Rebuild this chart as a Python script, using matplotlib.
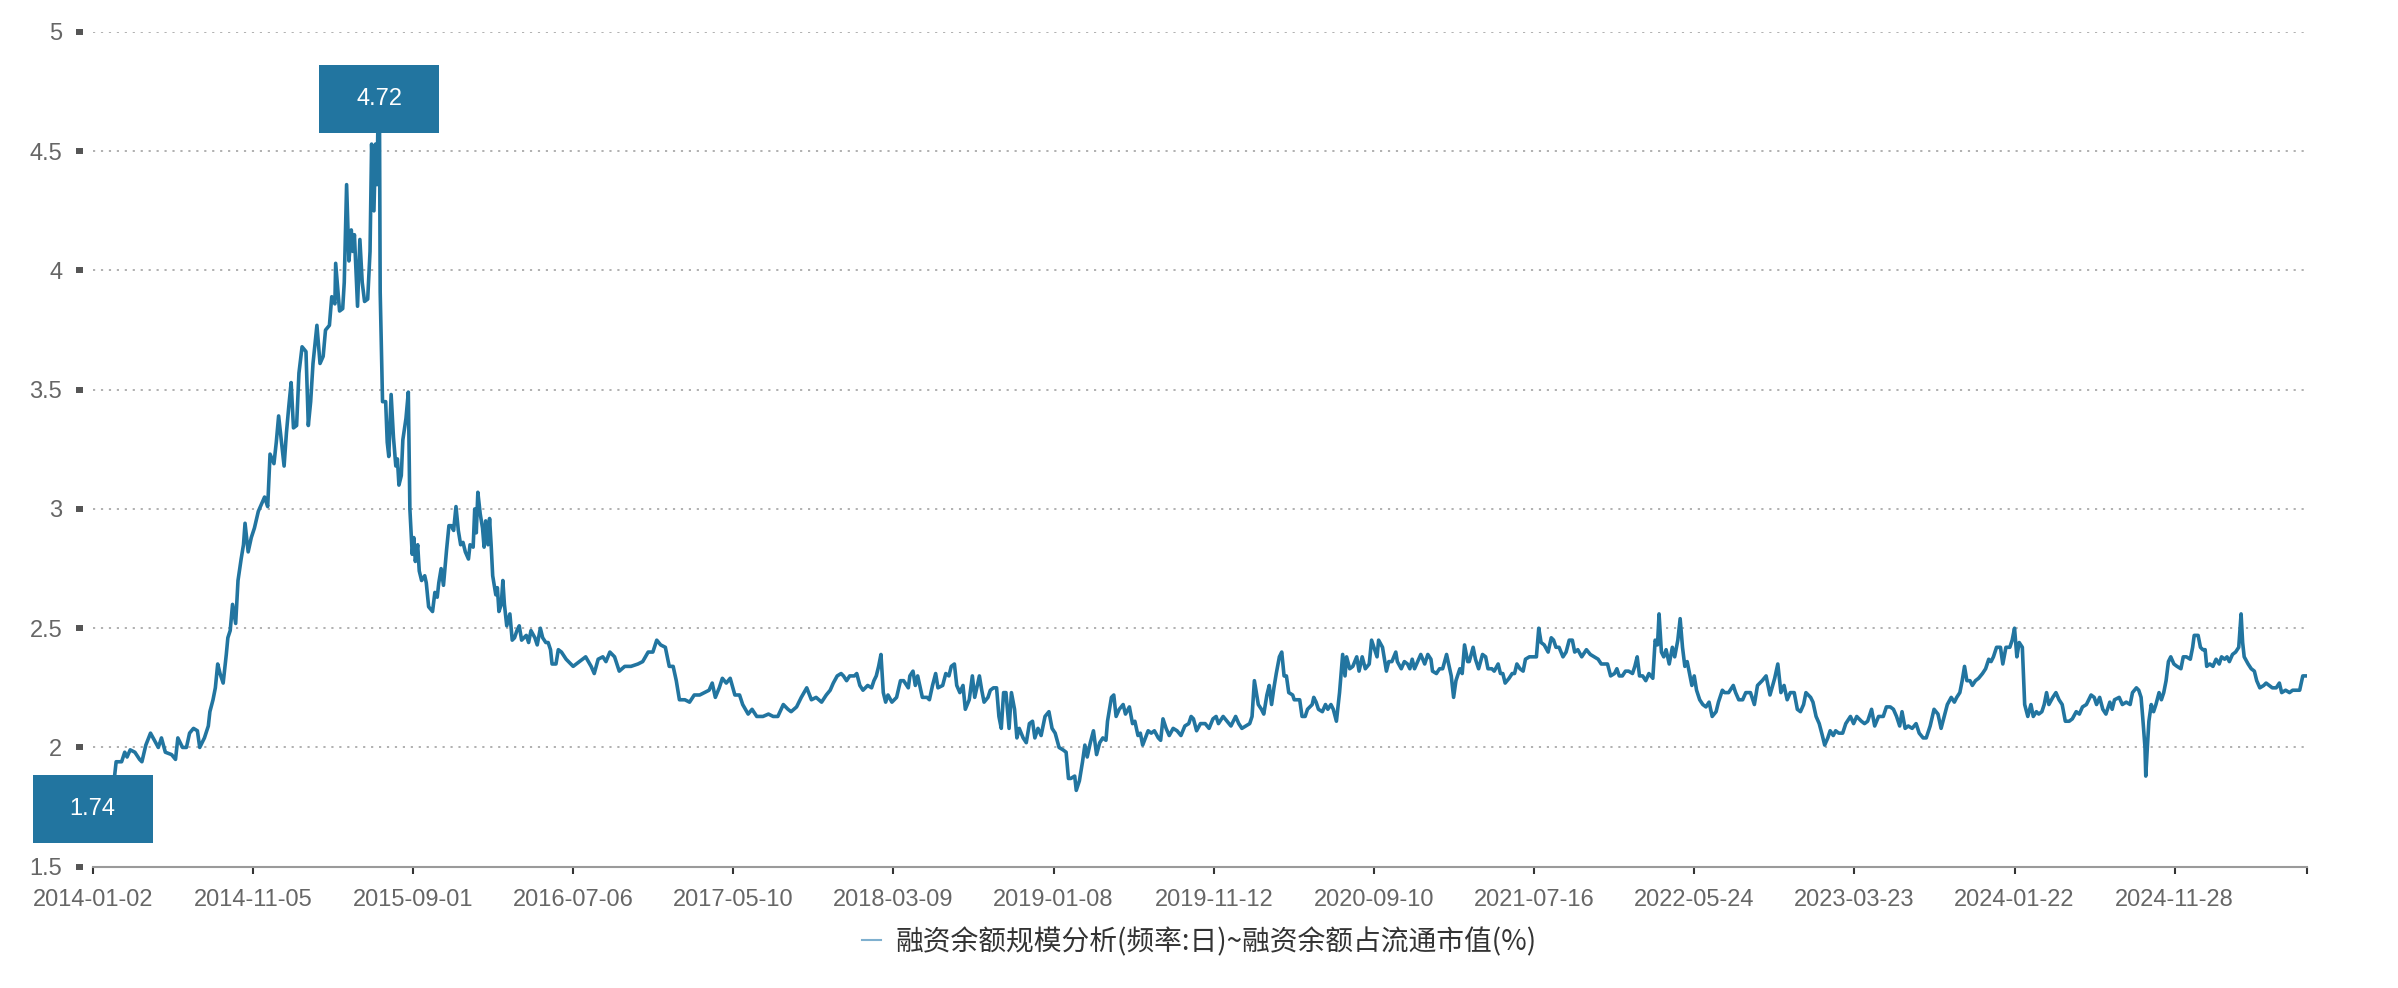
import matplotlib
matplotlib.use('Agg')
import matplotlib.pyplot as plt
import matplotlib.transforms as mtransforms
from matplotlib.patches import Rectangle
from matplotlib.lines import Line2D
import numpy as np

# category axis: trading days since 2014-01-02, a label every 205 days
tick_dates = ['2014-01-02', '2014-11-05', '2015-09-01', '2016-07-06', '2017-05-10',
              '2018-03-09', '2019-01-08', '2019-11-12', '2020-09-10', '2021-07-16',
              '2022-05-24', '2023-03-23', '2024-01-22', '2024-11-28']
label_step = 205
last_day = 2834

series_name = '融资余额规模分析(频率:日)~融资余额占流通市值(%)'

# values, by period (trading-day index, % of float market cap)
days_a = [0, 6, 12, 18, 24, 28, 30, 37, 41, 44,
          48, 54, 60, 63, 68, 74, 79, 84, 88, 93,
          101, 106, 109, 115, 120, 124, 129, 134, 137, 143,
          148, 150, 154, 157, 160, 163, 167, 171, 173, 176,
          179, 183, 186, 190, 193, 195, 199, 203, 207, 212,
          216, 220, 224, 227, 232, 235, 238, 241, 245, 248,
          251, 254, 257, 261, 264, 268, 273, 276, 279, 282,
          287, 291, 295, 298, 303, 306, 310, 311, 314, 316,
          320, 322, 325, 328, 331, 333, 335, 339, 342, 345,
          348, 352, 355, 357, 360, 362, 364, 365, 367, 368]
vals_a = [1.74, 1.78, 1.81, 1.84, 1.86, 1.88, 1.94, 1.94, 1.98, 1.96,
          1.99, 1.98, 1.95, 1.94, 2.01, 2.06, 2.03, 2.00, 2.04, 1.98,
          1.97, 1.95, 2.04, 2.00, 2.00, 2.06, 2.08, 2.07, 2.00, 2.04,
          2.09, 2.15, 2.20, 2.25, 2.35, 2.31, 2.27, 2.39, 2.46, 2.49,
          2.60, 2.52, 2.70, 2.79, 2.85, 2.94, 2.82, 2.88, 2.92, 2.99,
          3.02, 3.05, 3.01, 3.23, 3.19, 3.28, 3.39, 3.30, 3.18, 3.32,
          3.43, 3.53, 3.34, 3.35, 3.57, 3.68, 3.66, 3.35, 3.45, 3.61,
          3.77, 3.61, 3.64, 3.75, 3.77, 3.89, 3.86, 4.03, 3.91, 3.83,
          3.84, 3.95, 4.36, 4.04, 4.17, 4.08, 4.15, 3.85, 4.13, 3.95,
          3.87, 3.88, 4.08, 4.53, 4.25, 4.53, 4.36, 4.60, 4.72, 3.91]

days_b = [371, 375, 377, 379, 382, 385, 388, 390, 392, 395,
          397, 401, 404, 406, 409, 411, 413, 416, 418, 421,
          425, 427, 430, 435, 438, 441, 443, 446, 449, 453,
          456, 459, 462, 465, 468, 471, 474, 477, 481, 483,
          487, 489, 491, 493, 496, 499, 501, 503, 506, 508,
          510, 512, 516, 518, 520, 523, 525, 527, 530, 534,
          537, 540, 543, 546, 549, 552, 555, 558, 561, 566,
          569, 573, 576, 580, 583, 586, 588, 593, 596, 600]
vals_b = [3.45, 3.45, 3.28, 3.22, 3.48, 3.30, 3.18, 3.21, 3.10, 3.14,
          3.29, 3.38, 3.49, 3.00, 2.81, 2.88, 2.78, 2.85, 2.74, 2.70,
          2.72, 2.69, 2.59, 2.57, 2.65, 2.63, 2.69, 2.75, 2.68, 2.83,
          2.93, 2.93, 2.91, 3.01, 2.91, 2.85, 2.86, 2.82, 2.79, 2.85,
          2.84, 3.00, 2.90, 3.07, 2.98, 2.92, 2.84, 2.95, 2.85, 2.96,
          2.85, 2.72, 2.64, 2.67, 2.57, 2.60, 2.70, 2.60, 2.51, 2.56,
          2.45, 2.46, 2.49, 2.51, 2.45, 2.46, 2.47, 2.44, 2.49, 2.46,
          2.43, 2.50, 2.46, 2.44, 2.44, 2.41, 2.35, 2.35, 2.41, 2.40]

days_c = [606, 615, 623, 631, 638, 642, 647, 653, 657, 662,
          668, 674, 681, 689, 698, 704, 711, 717, 722, 727,
          733, 738, 743, 747, 751, 758, 764, 770, 777, 783,
          789, 793, 797, 802, 806, 811, 816, 822, 828, 832,
          839, 844, 850, 858, 865, 871, 877, 884, 890, 894,
          901, 907, 914, 920, 926, 933, 939, 944, 948, 953]
vals_c = [2.37, 2.34, 2.36, 2.38, 2.34, 2.31, 2.37, 2.38, 2.36, 2.40,
          2.38, 2.32, 2.34, 2.34, 2.35, 2.36, 2.40, 2.40, 2.45, 2.43,
          2.42, 2.34, 2.34, 2.28, 2.20, 2.20, 2.19, 2.22, 2.22, 2.23,
          2.24, 2.27, 2.21, 2.25, 2.29, 2.27, 2.29, 2.22, 2.22, 2.18,
          2.14, 2.16, 2.13, 2.13, 2.14, 2.13, 2.13, 2.18, 2.16, 2.15,
          2.17, 2.21, 2.25, 2.20, 2.21, 2.19, 2.22, 2.24, 2.27, 2.30]

days_d = [958, 961, 965, 969, 975, 978, 982, 986, 992, 997,
          1000, 1003, 1006, 1009, 1012, 1015, 1018, 1023, 1029, 1034,
          1038, 1044, 1046, 1050, 1053, 1056, 1062, 1068, 1071, 1075,
          1079, 1082, 1088, 1092, 1096, 1099, 1103, 1106, 1110, 1114,
          1117, 1122, 1126, 1129, 1135, 1138, 1141, 1146, 1149, 1153,
          1157, 1160, 1163, 1166, 1169, 1173, 1176, 1180, 1183, 1186,
          1191, 1195, 1199, 1203, 1206, 1210, 1214, 1219, 1224, 1228,
          1232, 1237, 1242, 1246, 1249, 1252, 1257, 1259, 1263, 1267,
          1270, 1273, 1277, 1281, 1285, 1289, 1293, 1297, 1299, 1304,
          1307, 1310]
vals_d = [2.31, 2.30, 2.28, 2.30, 2.30, 2.31, 2.26, 2.24, 2.26, 2.25,
          2.28, 2.30, 2.34, 2.39, 2.23, 2.19, 2.22, 2.19, 2.21, 2.28,
          2.28, 2.25, 2.30, 2.32, 2.26, 2.30, 2.21, 2.21, 2.20, 2.26,
          2.31, 2.25, 2.26, 2.31, 2.30, 2.34, 2.35, 2.26, 2.23, 2.26,
          2.16, 2.20, 2.30, 2.21, 2.30, 2.24, 2.19, 2.21, 2.24, 2.25,
          2.25, 2.13, 2.08, 2.23, 2.23, 2.08, 2.23, 2.16, 2.04, 2.08,
          2.04, 2.02, 2.10, 2.11, 2.04, 2.08, 2.05, 2.13, 2.15, 2.08,
          2.06, 2.00, 1.99, 1.98, 1.87, 1.87, 1.88, 1.82, 1.86, 1.94,
          2.01, 1.96, 2.02, 2.07, 1.97, 2.02, 2.04, 2.03, 2.11, 2.21,
          2.22, 2.13]

days_e = [1314, 1319, 1322, 1327, 1331, 1334, 1338, 1341, 1344, 1351,
          1355, 1359, 1364, 1367, 1370, 1374, 1378, 1383, 1388, 1393,
          1398, 1403, 1406, 1409, 1413, 1418, 1424, 1429, 1434, 1438,
          1441, 1447, 1452, 1457, 1463, 1467, 1471, 1476, 1481, 1484,
          1487, 1492, 1496, 1499, 1503, 1506, 1509, 1512, 1515, 1519,
          1522, 1525, 1528, 1531, 1536, 1538, 1545, 1548, 1552, 1555,
          1561, 1563, 1566, 1569, 1574, 1578, 1581, 1585, 1588, 1592,
          1596, 1600, 1603, 1605, 1609, 1613, 1618, 1621, 1625, 1629,
          1634, 1637, 1641, 1644, 1646, 1651, 1656, 1659, 1663, 1668,
          1670]
vals_e = [2.16, 2.18, 2.14, 2.17, 2.10, 2.11, 2.05, 2.06, 2.01, 2.07,
          2.06, 2.07, 2.04, 2.03, 2.12, 2.08, 2.05, 2.08, 2.07, 2.05,
          2.09, 2.10, 2.13, 2.12, 2.07, 2.10, 2.10, 2.08, 2.12, 2.13,
          2.10, 2.13, 2.11, 2.09, 2.13, 2.10, 2.08, 2.09, 2.10, 2.13,
          2.28, 2.18, 2.16, 2.14, 2.22, 2.26, 2.18, 2.25, 2.31, 2.38,
          2.40, 2.30, 2.30, 2.23, 2.22, 2.20, 2.20, 2.13, 2.13, 2.16,
          2.18, 2.21, 2.19, 2.16, 2.15, 2.18, 2.16, 2.18, 2.16, 2.11,
          2.23, 2.39, 2.30, 2.38, 2.33, 2.34, 2.38, 2.32, 2.38, 2.33,
          2.35, 2.45, 2.41, 2.38, 2.45, 2.42, 2.32, 2.36, 2.36, 2.40,
          2.36]

days_f = [1675, 1679, 1683, 1686, 1689, 1692, 1696, 1700, 1705, 1709,
          1713, 1715, 1720, 1724, 1728, 1733, 1737, 1739, 1742, 1745,
          1750, 1753, 1756, 1760, 1762, 1767, 1770, 1774, 1779, 1783,
          1786, 1791, 1794, 1799, 1802, 1805, 1808, 1813, 1817, 1820,
          1823, 1827, 1831, 1834, 1839, 1843, 1848, 1851, 1854, 1858,
          1863, 1867, 1870, 1873, 1877, 1882, 1886, 1890, 1894, 1897,
          1901, 1906, 1912, 1917, 1922, 1927, 1931, 1935, 1939, 1943,
          1948, 1951, 1954, 1958, 1962, 1966, 1971, 1974, 1977, 1980,
          1984, 1988, 1992, 1997, 2000, 2003, 2005, 2008, 2011, 2014,
          2018, 2022, 2025, 2029]
vals_f = [2.33, 2.36, 2.35, 2.33, 2.37, 2.33, 2.36, 2.39, 2.35, 2.39,
          2.37, 2.32, 2.31, 2.33, 2.33, 2.39, 2.33, 2.30, 2.21, 2.28,
          2.33, 2.31, 2.43, 2.36, 2.36, 2.42, 2.37, 2.33, 2.39, 2.38,
          2.33, 2.33, 2.32, 2.35, 2.31, 2.31, 2.27, 2.29, 2.31, 2.31,
          2.35, 2.33, 2.32, 2.37, 2.38, 2.38, 2.38, 2.50, 2.44, 2.43,
          2.40, 2.46, 2.45, 2.42, 2.42, 2.38, 2.40, 2.45, 2.45, 2.40,
          2.41, 2.38, 2.41, 2.39, 2.38, 2.37, 2.35, 2.35, 2.35, 2.30,
          2.31, 2.33, 2.30, 2.30, 2.32, 2.32, 2.31, 2.34, 2.38, 2.30,
          2.30, 2.28, 2.31, 2.29, 2.45, 2.43, 2.56, 2.40, 2.38, 2.41,
          2.35, 2.42, 2.38, 2.45]

days_g = [2032, 2035, 2038, 2041, 2044, 2047, 2050, 2053, 2057, 2061,
          2065, 2069, 2073, 2078, 2081, 2086, 2089, 2094, 2100, 2103,
          2107, 2112, 2116, 2122, 2127, 2131, 2137, 2142, 2147, 2153,
          2157, 2161, 2165, 2169, 2173, 2178, 2182, 2186, 2190, 2193,
          2199, 2202, 2206, 2210, 2214, 2217, 2221, 2224, 2228, 2231,
          2235, 2240, 2244, 2250, 2254, 2258, 2264, 2268, 2272, 2277,
          2281, 2286, 2292, 2296, 2301, 2305, 2309, 2313, 2316, 2320,
          2324, 2329, 2334, 2338, 2343, 2347, 2352, 2357, 2362, 2366,
          2370, 2374, 2379, 2383, 2386]
vals_g = [2.54, 2.42, 2.34, 2.36, 2.31, 2.26, 2.30, 2.24, 2.20, 2.18,
          2.17, 2.19, 2.13, 2.15, 2.19, 2.24, 2.23, 2.23, 2.26, 2.23,
          2.20, 2.20, 2.23, 2.23, 2.18, 2.26, 2.28, 2.30, 2.22, 2.29,
          2.35, 2.23, 2.26, 2.20, 2.23, 2.23, 2.16, 2.15, 2.18, 2.23,
          2.21, 2.19, 2.13, 2.10, 2.05, 2.01, 2.04, 2.07, 2.05, 2.07,
          2.06, 2.06, 2.10, 2.13, 2.10, 2.13, 2.11, 2.10, 2.11, 2.16,
          2.09, 2.13, 2.13, 2.17, 2.17, 2.16, 2.13, 2.09, 2.15, 2.08,
          2.09, 2.08, 2.10, 2.06, 2.04, 2.04, 2.09, 2.16, 2.14, 2.08,
          2.13, 2.18, 2.21, 2.19, 2.21]

days_h = [2390, 2393, 2396, 2399, 2403, 2406, 2410, 2414, 2419, 2423,
          2427, 2430, 2433, 2437, 2442, 2445, 2449, 2454, 2457, 2460,
          2463, 2466, 2470, 2473, 2477, 2481, 2484, 2488, 2491, 2495,
          2498, 2501, 2504, 2509, 2513, 2517, 2521, 2525, 2530, 2534,
          2539, 2543, 2547, 2552, 2558, 2562, 2565, 2569, 2573, 2577,
          2582, 2585, 2588, 2594, 2598, 2603, 2608, 2611, 2616, 2619,
          2622, 2624, 2627, 2628, 2630, 2632, 2635, 2638, 2641, 2645,
          2648, 2651, 2654, 2657, 2660, 2664, 2668, 2673, 2676, 2680,
          2685, 2688, 2690, 2695, 2698, 2701, 2704, 2706, 2710, 2714,
          2718, 2722, 2725, 2729, 2732, 2735, 2739, 2743, 2747, 2750,
          2752, 2754, 2759, 2763, 2767, 2770, 2774, 2779, 2782, 2786,
          2790, 2795, 2799, 2802, 2807, 2812, 2816, 2820, 2825, 2829,
          2834]
vals_h = [2.23, 2.28, 2.34, 2.28, 2.28, 2.26, 2.28, 2.29, 2.31, 2.33,
          2.37, 2.36, 2.38, 2.42, 2.42, 2.35, 2.42, 2.42, 2.45, 2.50,
          2.38, 2.44, 2.42, 2.18, 2.13, 2.18, 2.13, 2.15, 2.14, 2.15,
          2.18, 2.23, 2.18, 2.21, 2.23, 2.20, 2.18, 2.11, 2.11, 2.12,
          2.15, 2.14, 2.17, 2.18, 2.22, 2.21, 2.18, 2.21, 2.16, 2.14,
          2.19, 2.16, 2.20, 2.21, 2.18, 2.19, 2.18, 2.23, 2.25, 2.24,
          2.21, 2.13, 2.00, 1.88, 2.00, 2.11, 2.18, 2.15, 2.18, 2.23,
          2.20, 2.23, 2.28, 2.36, 2.38, 2.35, 2.34, 2.33, 2.38, 2.38,
          2.37, 2.42, 2.47, 2.47, 2.42, 2.41, 2.41, 2.34, 2.35, 2.34,
          2.37, 2.35, 2.38, 2.37, 2.38, 2.36, 2.39, 2.40, 2.42, 2.56,
          2.44, 2.38, 2.35, 2.33, 2.32, 2.28, 2.25, 2.26, 2.27, 2.26,
          2.25, 2.25, 2.27, 2.23, 2.24, 2.23, 2.24, 2.24, 2.24, 2.30,
          2.30]

days = days_a + days_b + days_c + days_d + days_e + days_f + days_g + days_h
vals = vals_a + vals_b + vals_c + vals_d + vals_e + vals_f + vals_g + vals_h

line_color = '#2275a0'
W, H = 2398, 988

fig = plt.figure(figsize=(W / 100, H / 100), dpi=100)
ax = fig.add_axes([92.7 / W, 1 - 866.7 / H, (2306.7 - 92.7) / W, (866.7 - 32) / H])

ax.plot(days, vals, color=line_color, linewidth=2.6, zorder=3)

ax.set_xlim(0, last_day)
ax.set_ylim(1.5, 5)

yticks = np.arange(1.5, 5.01, 0.5)
ax.set_yticks(yticks)
ax.set_yticklabels(['{:g}'.format(v) for v in yticks])
ax.yaxis.grid(True, linestyle=(0, (1.2, 3.2)), color='#aaaaaa', linewidth=1.3)
ax.set_axisbelow(True)

# one tick per label, plus the closing tick at the end of the axis
ax.set_xticks(list(np.arange(len(tick_dates)) * label_step) + [last_day])
ax.set_xticklabels(tick_dates + [''])

for s in ['top', 'right', 'left']:
    ax.spines[s].set_visible(False)
ax.spines['left'].set_position(('outward', 7))
ax.spines['bottom'].set_color('#9a9a9a')
ax.spines['bottom'].set_linewidth(1.5)
ax.spines['bottom'].set_zorder(4)

tick_font = 'Liberation Sans'
ax.tick_params(axis='y', direction='out', length=5, width=4.3, color='#555555',
               pad=10, labelsize=17, labelcolor='#666666')
ax.tick_params(axis='x', direction='out', length=5, width=1.5, color='#333333',
               pad=11, labelsize=17, labelcolor='#666666')
for lab in ax.get_xticklabels() + ax.get_yticklabels():
    lab.set_fontfamily(tick_font)

# max / min labels, boxes centred on the point
i_max = int(np.argmax(vals))
i_min = int(np.argmin(vals))
for i in [i_max, i_min]:
    x, y = days[i], vals[i]
    box_tf = mtransforms.Affine2D() + mtransforms.ScaledTranslation(x, y, ax.transData)
    ax.add_patch(Rectangle((-60, -34), 120, 68, transform=box_tf, facecolor=line_color,
                           edgecolor='none', clip_on=False, zorder=5))
    ax.text(x, y, '{:.2f}'.format(y), ha='center', va='center', color='white',
            fontsize=17, fontfamily=tick_font, zorder=6, clip_on=False)

handle = Line2D([], [], color='#7fb0cf', linewidth=1.5)
fig.legend([handle], [series_name], loc='center', bbox_to_anchor=(0.5, 1 - 942 / H),
           frameon=False, handlelength=0.7, handletextpad=0.5, labelcolor='#333333',
           prop={'family': ['Noto Sans CJK SC', 'DejaVu Sans'], 'size': 20})

fig.savefig('out.png', dpi=100)
